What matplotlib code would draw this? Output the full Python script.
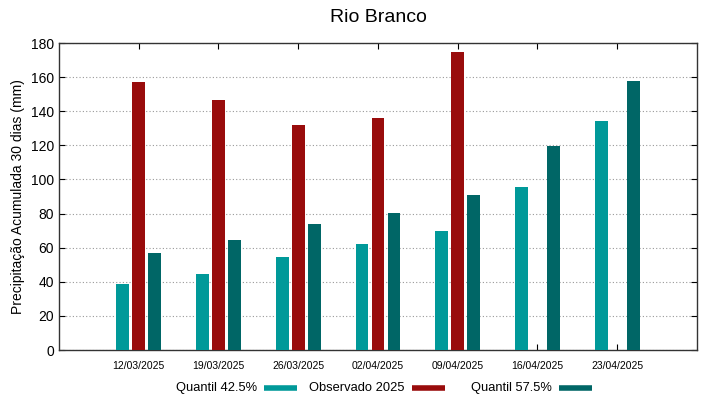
import numpy as np
import matplotlib
matplotlib.use("Agg")
import matplotlib.pyplot as plt
from matplotlib.lines import Line2D

plt.rcParams['font.family'] = ['Liberation Sans', 'DejaVu Sans']

dates = ["12/03/2025", "19/03/2025", "26/03/2025", "02/04/2025",
         "09/04/2025", "16/04/2025", "23/04/2025"]
q425 = [38.9, 44.5, 54.5, 62.1, 69.9, 95.7, 134.1]
observado = [156.9, 146.5, 131.7, 135.8, 174.7, np.nan, np.nan]
q575 = [56.9, 64.3, 73.9, 80.1, 90.7, 119.6, 157.5]
series_labels = ["Quantil 42.5%", "Observado 2025", "Quantil 57.5%"]

c_q425 = "#009999"
c_obs = "#990c0c"
c_q575 = "#006666"
colors = [c_q425, c_obs, c_q575]

W, H = 719, 399
fig = plt.figure(figsize=(W / 100, H / 100), dpi=100)
ax = fig.add_axes([0.082, 0.1228, 0.8874, 0.7694])

x = np.arange(len(dates))
w = 0.16
ax.bar(x - 0.2, q425, w, color=c_q425, zorder=3)
ax.bar(x, observado, w, color=c_obs, zorder=3)
ax.bar(x + 0.2, q575, w, color=c_q575, zorder=3)

ax.set_xlim(-1, 7)
ax.set_ylim(0, 180)
ax.set_yticks(np.arange(0, 181, 20))
ax.set_xticks(x)
ax.set_xticklabels(dates, fontsize=7.5)
ax.tick_params(axis='y', labelsize=10, direction='in', right=True, length=4)
ax.tick_params(axis='x', direction='in', top=True, length=4, pad=8)
ax.yaxis.grid(True, linestyle=(0, (1, 2)), color='#999999', linewidth=0.8, zorder=0)
for s in ax.spines.values():
    s.set_color('#333333')
    s.set_linewidth(1.0)

ax.set_ylabel("Precipitação Acumulada 30 dias (mm)", fontsize=10)
ax.set_title("Rio Branco", fontsize=14, pad=15)

# gnuplot-style legend: text then swatch (positions in pixels)
text_right = [257, 404, 552]
sw_start = [264, 412, 559]
sw_len = 33
ly = (H - 388) / H
for lab, c, tr, s0 in zip(series_labels, colors, text_right, sw_start):
    fig.text(tr / W, ly, lab, ha='right', va='center', fontsize=9.3)
    fig.add_artist(Line2D([s0 / W, (s0 + sw_len) / W], [ly, ly],
                          transform=fig.transFigure, color=c, linewidth=4,
                          solid_capstyle='butt'))

fig.savefig("out.png", dpi=100)
